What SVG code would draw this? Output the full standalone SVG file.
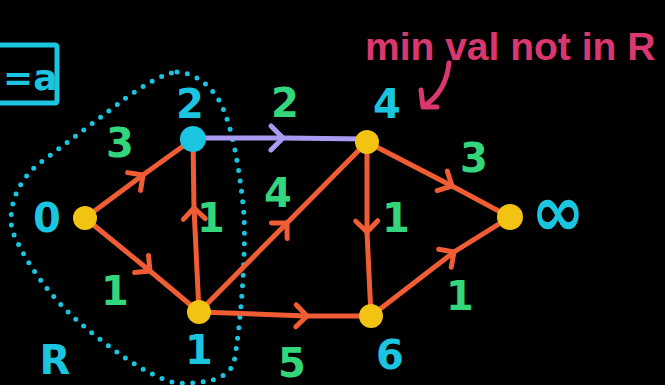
<svg xmlns="http://www.w3.org/2000/svg" width="665" height="385" viewBox="0 0 665 385">
<style>
.lbl{fill:#1cc5df;font-family:"DejaVu Sans",sans-serif;font-weight:bold;font-size:40px;text-anchor:middle}
.w{fill:#33d67a;font-family:"DejaVu Sans",sans-serif;font-weight:bold;font-size:40px;text-anchor:middle}
.e{stroke:#f05d35;stroke-width:5;fill:none;stroke-linecap:round}
.node{fill:#f3c313}
</style>
<defs>
<marker id="ch" markerUnits="userSpaceOnUse" markerWidth="30" markerHeight="30" refX="15" refY="15" orient="auto" viewBox="0 0 30 30">
<path d="M4,4 L15,15 L4,26" fill="none" stroke="#f05d35" stroke-width="5" stroke-linecap="round" stroke-linejoin="round"/>
</marker>
<marker id="chp" markerUnits="userSpaceOnUse" markerWidth="30" markerHeight="30" refX="15" refY="15" orient="auto" viewBox="0 0 30 30">
<path d="M3,3 L15,15 L3,27" fill="none" stroke="#a99af2" stroke-width="5" stroke-linecap="round" stroke-linejoin="round"/>
</marker>
</defs>
<rect width="665" height="385" fill="#000"/>
<g id="region">
<path d="M177,72 C193,73 208,82 220,102 C232,125 240,170 244,215 C246,260 240,330 234,362 C228,380 205,384 175,383 C145,375 110,348 80,323 C50,297 25,262 12,230 C8,205 18,180 40,163 C70,140 100,118 127,97 C145,85 162,74 177,72 Z" fill="none" stroke="#1cc5df" stroke-width="5" stroke-linecap="round" stroke-dasharray="0 10.5"/>
<text class="lbl" x="55" y="374" font-size="52">R</text>
</g>
<g id="box">
<rect x="-8" y="45" width="65" height="58" fill="none" stroke="#1cc5df" stroke-width="5" rx="2"/>
<text class="lbl" x="3" y="90" style="font-size:36px;text-anchor:start">=a</text>
</g>
<g id="edges">
<path class="e" d="M85,218 L143,175 L193,139" marker-mid="url(#ch)"/>
<path class="e" d="M85,218 L150,271 L199,312" marker-mid="url(#ch)"/>
<path class="e" d="M199,312 L194,208 L193,139" marker-mid="url(#ch)"/>
<path class="e" d="M199,312 L287,223 L367,142" marker-mid="url(#ch)"/>
<path class="e" d="M199,312 L307,316 L371,316" marker-mid="url(#ch)"/>
<path class="e" d="M367,142 L367,232 L371,316" marker-mid="url(#ch)"/>
<path class="e" d="M367,142 L452,186 L510,217" marker-mid="url(#ch)"/>
<path class="e" d="M371,316 L454,252 L510,217" marker-mid="url(#ch)"/>
<path d="M193,138 L283,138 L367,139" fill="none" stroke="#a99af2" stroke-width="5" stroke-linecap="round" marker-mid="url(#chp)"/>
</g>
<g id="weights">
<text class="w" x="120" y="157">3</text>
<text class="w" x="115" y="305">1</text>
<text class="w" x="211" y="232">1</text>
<text class="w" x="285" y="117">2</text>
<text class="w" x="278" y="207">4</text>
<text class="w" x="292" y="377">5</text>
<text class="w" x="396" y="232">1</text>
<text class="w" x="474" y="172">3</text>
<text class="w" x="460" y="310">1</text>
</g>
<g id="n0"><circle class="node" cx="85" cy="218" r="12"/><text class="lbl" x="47" y="232">0</text></g>
<g id="n2"><circle cx="193" cy="139" r="13" fill="#1cc5df"/><text class="lbl" x="190" y="118">2</text></g>
<g id="n1"><circle class="node" cx="199" cy="312" r="12"/><text class="lbl" x="199" y="364">1</text></g>
<g id="n4"><circle class="node" cx="367" cy="142" r="12"/><text class="lbl" x="387" y="118">4</text></g>
<g id="n6"><circle class="node" cx="371" cy="316" r="12"/><text class="lbl" x="390" y="369">6</text></g>
<g id="ninf"><circle class="node" cx="510" cy="217" r="13"/><text class="lbl" font-weight="normal" font-size="36" transform="translate(558,236) scale(1.6,1.8)">∞</text></g>
<g id="note">
<text x="365" y="60" fill="#d9386f" font-family="Liberation Sans,sans-serif" font-weight="bold" font-size="39">min val not in R</text>
<path d="M449,63 Q446,92 424,106 M421,90 L423,107 L437,107" fill="none" stroke="#d9386f" stroke-width="5" stroke-linecap="round" stroke-linejoin="round"/>
</g>
</svg>
